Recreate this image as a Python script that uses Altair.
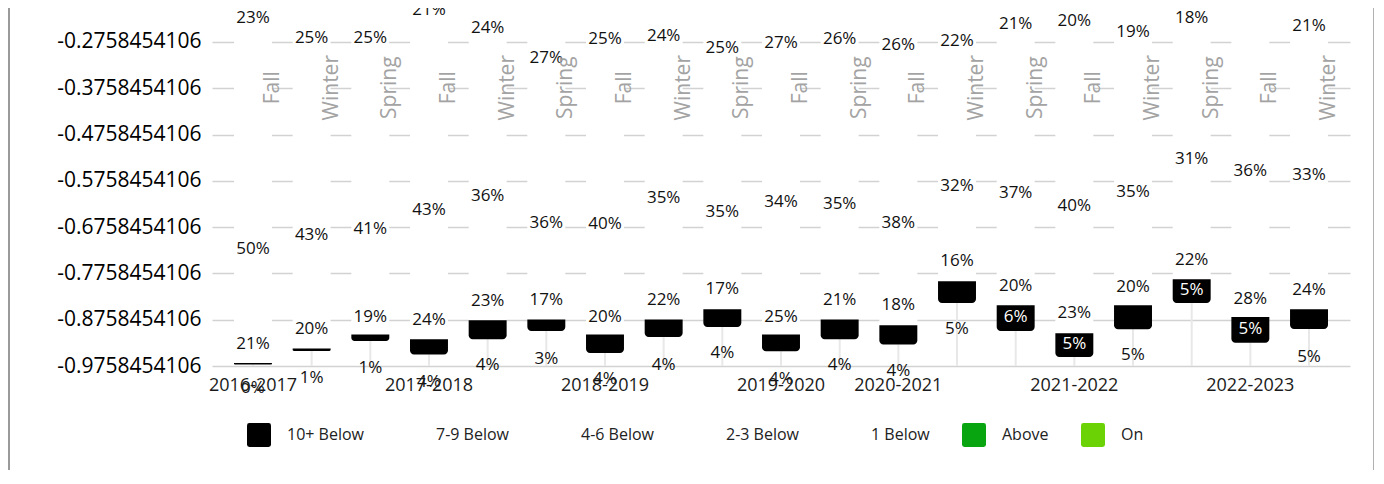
import altair as alt
import pandas as pd

# ---------------- data ----------------
seasons = ["Fall", "Winter", "Spring", "Fall", "Winter", "Spring", "Fall", "Winter", "Spring",
           "Fall", "Spring", "Fall", "Winter", "Spring", "Fall", "Winter", "Spring", "Fall", "Winter"]
school_years = ["2016-2017", "2017-2018", "2018-2019", "2019-2020", "2020-2021", "2021-2022", "2022-2023"]
year_first_col = [0, 3, 6, 9, 11, 14, 17]

# percentage labels (four per column) and their positions on the value axis
top_pct = [23, 25, 25, 21, 24, 27, 25, 24, 25, 27, 26, 26, 22, 21, 20, 19, 18, 20, 21]
top_val = [-0.2246, -0.2678, -0.2678, -0.2074, -0.2452, -0.3100, -0.2700, -0.2635, -0.2894, -0.2787,
           -0.2700, -0.2830, -0.2743, -0.2376, -0.2311, -0.2549, -0.2236, -0.1901, -0.2419]
mid_pct = [50, 43, 41, 43, 36, 36, 40, 35, 35, 34, 35, 38, 32, 37, 40, 35, 31, 36, 33]
mid_val = [-0.7236, -0.6933, -0.6804, -0.6393, -0.6080, -0.6674, -0.6696, -0.6124, -0.6426, -0.6210,
           -0.6253, -0.6674, -0.5875, -0.6026, -0.6307, -0.6005, -0.5292, -0.5551, -0.5637]
third_pct = [21, 20, 19, 24, 23, 17, 20, 22, 17, 25, 21, 18, 16, 20, 23, 20, 22, 28, 24]
third_val = [-0.9288, -0.8964, -0.8704, -0.8769, -0.8359, -0.8327, -0.8694, -0.8327, -0.8100, -0.8694,
             -0.8327, -0.8445, -0.7495, -0.8024, -0.8618, -0.8046, -0.7463, -0.8305, -0.8111]
below10_pct = [0, 1, 1, 4, 4, 3, 4, 4, 4, 4, 4, 4, 5, 6, 5, 5, 5, 5, 5]
below10_val = [-1.0238, -1.0022, -0.9795, -1.0098, -0.9741, -0.9601, -1.0044, -0.9741, -0.9482, -1.0033,
               -0.9741, -0.9871, -0.8953, -0.8694, -0.9277, -0.9525, -0.8121, -0.8953, -0.9558]

# black "10+ Below" bars: top and bottom on the value axis
bar_top = [-0.9692, -0.9380, -0.9078, -0.9180, -0.8769, -0.8754, -0.9078, -0.8754, -0.8532, -0.9078,
           -0.8754, -0.8877, -0.7927, -0.8445, -0.9050, -0.8445, -0.7884, -0.8698, -0.8532]
bar_bottom = [-0.9726, -0.9432, -0.9216, -0.9510, -0.9180, -0.9000, -0.9475, -0.9130, -0.8914, -0.9439,
              -0.9180, -0.9294, -0.8396, -0.9000, -0.9562, -0.8964, -0.8396, -0.9258, -0.8957]

categories = ["10+ Below", "7-9 Below", "4-6 Below", "2-3 Below", "1 Below", "Above", "On"]
cat_colors = ["#000000", "#ffffff", "#ffffff", "#ffffff", "#ffffff", "#08A511", "#6BD305"]

Y_MIN = -0.9758454106
Y_MAX = Y_MIN + 358 / 463
y_ticks = [round(Y_MIN + 0.1 * k, 10) for k in range(8)]
season_level = -0.3748
year_level = -1.0195

FONT = "Open Sans"
cols = list(range(len(seasons)))

# ---------------- tables ----------------
bars = pd.DataFrame({"col": cols, "top": bar_top, "bottom": bar_bottom,
                     "cat": ["10+ Below"] * len(cols), "ymax": [Y_MAX] * len(cols),
                     "base": [Y_MIN] * len(cols)})

rows = []
for i in cols:
    for p, v in ((top_pct[i], top_val[i]), (mid_pct[i], mid_val[i]),
                 (third_pct[i], third_val[i]), (below10_pct[i], below10_val[i])):
        inside = bar_bottom[i] <= v <= bar_top[i]
        rows.append({"col": i, "label": f"{p}%", "v": v, "inside": inside})
labels = pd.DataFrame(rows)

season_df = pd.DataFrame({"col": cols, "season": seasons, "v": [season_level] * len(cols)})
year_df = pd.DataFrame({"col": year_first_col, "year": school_years, "v": [year_level] * len(school_years)})

xscale = alt.Scale(domain=cols, paddingInner=0.353, paddingOuter=0.375)
yscale = alt.Scale(domain=[Y_MIN, Y_MAX], nice=False, zero=False)
X = alt.X("col:O", scale=xscale, axis=None)

yaxis = alt.Axis(values=y_ticks, title=None,
                 labelExpr="replace(format(datum.value, '.10f'), '\u2212', '-')",
                 grid=True, gridColor="#d2d2d2", gridWidth=1.5,
                 domain=False, ticks=False, labelFont=FONT, labelFontSize=21,
                 labelColor="#000000", labelPadding=11)


def Y(field):
    return alt.Y(field, scale=yscale, axis=yaxis, title=None)


rounded_square = "M-1,-0.8Q-1,-1,-0.8,-1L0.8,-1Q1,-1,1,-0.8L1,0.8Q1,1,0.8,1L-0.8,1Q-1,1,-1,0.8Z"

cover = alt.Chart(bars).mark_bar(color="white").encode(
    x=X, y=Y("top:Q"), y2="ymax:Q",
)

stems = alt.Chart(bars).mark_rule(color="#e8e8e8", strokeWidth=2).encode(
    x=X, y=Y("bottom:Q"), y2="base:Q",
)

black = alt.Chart(bars).mark_bar(cornerRadiusBottomLeft=4, cornerRadiusBottomRight=4).encode(
    x=X, y=Y("top:Q"), y2="bottom:Q",
    color=alt.Color("cat:N", scale=alt.Scale(domain=categories, range=cat_colors),
                    legend=alt.Legend(orient="none", legendX=35, legendY=415, direction="horizontal",
                                      title=None, symbolType=rounded_square, symbolSize=576,
                                      symbolStrokeWidth=0, symbolOpacity=1, labelFont=FONT,
                                      labelFontSize=16, labelColor="#222222", labelOffset=16,
                                      columnPadding=32, padding=0, labelLimit=300)),
)

pct_text = alt.Chart(labels).mark_text(font=FONT, fontSize=17, align="center", baseline="middle").encode(
    x=X, y=Y("v:Q"),
    text="label:N",
    color=alt.condition("datum.inside", alt.value("#ffffff"), alt.value("#111111")),
)

season_text = alt.Chart(season_df).mark_text(font=FONT, fontSize=21, angle=270, align="center",
                                             baseline="middle", dy=20, color="#a3a3a3").encode(
    x=X, y=Y("v:Q"),
    text="season:N",
)

year_text = alt.Chart(year_df).mark_text(font=FONT, fontSize=18, align="center", baseline="middle",
                                         color="#1a1a1a").encode(
    x=X, y=Y("v:Q"),
    text="year:N",
)

left_border = alt.Chart(bars).mark_rule(color="#9a9a9a", strokeWidth=2).encode(
    x=alt.value(-203), y=alt.value(-10), y2=alt.value(470))
right_border = alt.Chart(bars).mark_rule(color="#b0b0b0", strokeWidth=2).encode(
    x=alt.value(1162), y=alt.value(-10), y2=alt.value(470))

chart = alt.layer(cover, stems, black, pct_text, season_text, year_text, left_border, right_border).properties(
    width=1138, height=358,
    autosize=alt.AutoSizeParams(type="none"),
    padding={"left": 204, "top": 0, "right": 24, "bottom": 104},
).configure_view(stroke=None)

chart.save("out.html", embed_options={"renderer": "svg", "actions": False})
